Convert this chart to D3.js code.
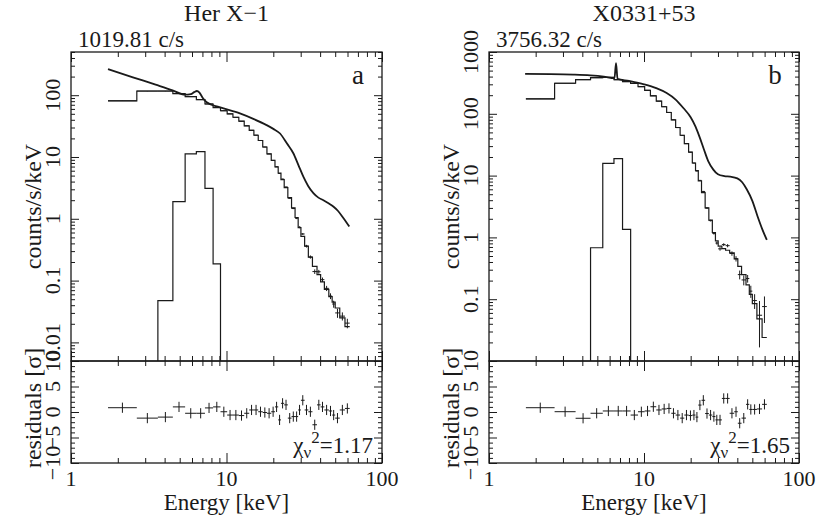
<!DOCTYPE html>
<html>
<head>
<meta charset="utf-8">
<script src="https://cdn.jsdelivr.net/npm/d3@7"></script>
<style>
  body { margin: 0; background: #fff; }
  svg text { font-family: "Liberation Serif", serif; fill: #1a1a1a; }
</style>
</head>
<body>
<svg id="spectra"></svg>
<script>
// Channel grouping in keV, the same for both spectra (39 channels)
const channelEdges = [1.73, 2.65, 3.62, 4.52, 5.42, 6.40, 7.27, 8.2, 9.15, 10.1, 11.0, 12.0, 13.0,
  14.0, 15.0, 16.0, 17.1, 18.2, 19.4, 20.5, 21.5, 22.4, 23.5, 24.8, 26.2, 27.6, 28.9, 30.1,
  31.8, 33.6, 35.7, 38.2, 40.3, 42.6, 45.5, 47.8, 50.0, 53.5, 57.8, 62.0];

// Her X-1: folded model, data, fractional errors, residuals
const herFolded = [81, 117, 117, 106, 95, 85, 72, 63, 56, 50, 44, 38, 32, 27, 22.5, 18.5, 14.5,
  11.2, 8.8, 6.9, 5.5, 4.3, 3.2, 2.2, 1.5, 1.05, 0.72, 0.52, 0.36, 0.24, 0.17, 0.125, 0.095,
  0.072, 0.055, 0.045, 0.036, 0.025, 0.018];
const herData = [81.3, 116.4, 116.5, 106.4, 94.9, 84.9, 72.2, 63.3, 56.0, 49.9, 43.8, 37.8, 32.0,
  27.1, 22.6, 18.5, 14.5, 11.2, 8.8, 6.94, 5.41, 4.39, 3.27, 2.15, 1.47, 1.02, 0.73, 0.568,
  0.361, 0.241, 0.140, 0.139, 0.1036, 0.0749, 0.0562, 0.0418, 0.030, 0.0266, 0.0205];
const herErr = [0.004, 0.004, 0.004, 0.004, 0.004, 0.004, 0.004, 0.004, 0.004, 0.004, 0.006,
  0.006, 0.006, 0.006, 0.006, 0.006, 0.006, 0.006, 0.006, 0.006, 0.01, 0.012, 0.015, 0.02,
  0.025, 0.03, 0.035, 0.04, 0.05, 0.06, 0.07, 0.08, 0.09, 0.10, 0.11, 0.12, 0.14, 0.16, 0.2];
const herResid = [0.84, -1.2, -1.0, 1.0, -0.25, -0.25, 0.8, 1.0, 0.05, -0.6, -0.6, -0.7, -0.25,
  0.4, 0.4, 0.05, -0.1, -0.25, 0.05, 1.0, -1.55, 1.7, 1.4, -1.2, -0.9, -0.9, 0.4, 2.3, 0.4,
  0.05, -2.5, 1.4, 1.0, 0.4, 0.2, -0.6, -1.2, 0.4, 0.7];
// Her X-1 unfolded model curve
const herModelE = [1.73, 2.5, 3.5, 4.5, 5.4, 5.9, 6.2, 6.45, 6.7, 7.0, 7.46, 9, 12.2, 15, 18.1,
  20, 22.1, 24.5, 26.9, 29, 31.2, 33.5, 36.2, 39, 42, 45, 48.6, 52, 56.4, 61.6];
const herModelV = [265, 195, 148, 120, 102, 104, 112, 117, 110, 92, 77, 64, 50.7, 41, 32.8, 28.5,
  24, 16.5, 11.5, 7.4, 4.8, 3.4, 2.6, 2.2, 2.0, 1.8, 1.58, 1.35, 1.03, 0.75];
// Her X-1 iron line component
const herLineEdges = [3.62, 4.52, 5.42, 6.40, 7.27, 8.2, 9.15];
const herLine = [0.0475, 1.9, 11.2, 12.2, 3.1, 0.186];

// X0331+53
const xFolded = [174, 312, 358, 384, 388, 356, 332, 310, 275, 240, 195, 160, 130, 105, 80, 60,
  45, 33, 24, 16, 12, 8.2, 5.3, 3.0, 1.9, 1.2, 0.88, 0.72, 0.66, 0.62, 0.56, 0.45, 0.34, 0.25,
  0.17, 0.12, 0.085, 0.048, 0.024];
const xData = [174.4, 312.1, 356.7, 383.7, 388.2, 356.2, 332.2, 309.4, 275.0, 240.1, 196.0,
  160.3, 130.4, 105.4, 79.9, 59.8, 44.7, 32.9, 23.9, 15.95, 11.88, 8.37, 5.54, 2.98, 1.87, 1.16,
  0.81, 0.653, 0.765, 0.735, 0.549, 0.452, 0.250, 0.205, 0.216, 0.135, 0.095, 0.055, 0.076];
const xErr = [0.003, 0.003, 0.003, 0.003, 0.003, 0.003, 0.003, 0.003, 0.003, 0.003, 0.005, 0.005,
  0.005, 0.005, 0.005, 0.005, 0.005, 0.005, 0.005, 0.005, 0.01, 0.015, 0.02, 0.025, 0.03, 0.04,
  0.05, 0.06, 0.06, 0.07, 0.08, 0.1, 0.12, 0.15, 0.18, 0.25, 0.3, 0.8, 1.45];
const xResid = [0.84, 0.06, -1.23, -0.25, 0.2, 0.2, 0.2, -0.6, 0.05, 0.2, 1.03, 0.4, 0.6, 0.7,
  -0.25, -0.6, -1.2, -0.6, -0.7, -0.6, -1.0, 1.36, 2.3, -0.3, -0.6, -0.9, -1.55, -1.55, 2.66,
  2.66, -0.25, 0.05, -2.2, -1.2, 1.5, 0.5, 0.5, 0.6, 1.5];
const xModelE = [1.71, 2.5, 3.5, 4.5, 5.5, 6.45, 6.6, 6.75, 8, 10, 12, 14, 16, 18, 20, 21.5, 23,
  24.3, 26, 28, 30, 33, 36, 40, 43, 46, 50, 54, 58, 62];
const xModelV = [441, 438, 430, 418, 400, 378, 660, 368, 340, 300, 260, 217, 170, 123, 88, 62, 40,
  27, 17, 12.5, 10.5, 9.8, 9.6, 9.0, 7.8, 6.0, 3.9, 2.2, 1.35, 0.91];
const xLineEdges = [4.52, 5.42, 6.40, 7.27, 8.2];
const xLine = [0.68, 15.8, 18.8, 1.35];

// Axis labels
const energyTicks = [1, 10, 100];
const residTicks = [-10, -5, 0, 5, 10];
const herCountTicks = [0.01, 0.1, 1, 10, 100];
const xCountTicks = [0.1, 1, 10, 100, 1000];

const panels = [
  { title: 'Her X\u22121', rate: '1019.81 c/s', tag: 'a', chi: '=1.17', left: 71, right: 382,
    yDomain: [0.005, 500], yTicks: herCountTicks, folded: herFolded, data: herData, err: herErr,
    resid: herResid, modelE: herModelE, modelV: herModelV, lineEdges: herLineEdges, line: herLine },
  { title: 'X0331+53', rate: '3756.32 c/s', tag: 'b', chi: '=1.65', left: 489, right: 799,
    yDomain: [0.01, 1000], yTicks: xCountTicks, folded: xFolded, data: xData, err: xErr,
    resid: xResid, modelE: xModelE, modelV: xModelV, lineEdges: xLineEdges, line: xLine },
];

const svg = d3.select('#spectra').attr('width', 818).attr('height', 518);
const yTop = 52, yMid = 361, yBottom = 463;
const ink = '#1a1a1a';
const isDecade = v => Math.abs(Math.log10(v) - Math.round(Math.log10(v))) < 1e-6;
const fmt = v => (v < 0 ? '\u2212' + Math.abs(v) : String(v));

panels.forEach((p, k) => {
  const x = d3.scaleLog().domain([1, 100]).range([p.left, p.right]);
  const y = d3.scaleLog().domain(p.yDomain).range([yMid, yTop]);
  const r = d3.scaleLinear().domain([-10, 10]).range([yBottom, yMid]);
  const g = svg.append('g');

  svg.append('clipPath').attr('id', `clip${k}`)
    .append('rect')
      .attr('x', p.left).attr('y', yTop)
      .attr('width', p.right - p.left).attr('height', yMid - yTop);

  const tickRow = (axis, scale, values, size, tx, ty) => {
    g.append('g')
      .attr('transform', `translate(${tx},${ty})`)
      .attr('color', ink)
      .call(axis(scale).tickValues(values).tickSize(size).tickFormat(''))
      .call(a => a.select('.domain').remove())
      .selectAll('line').attr('stroke-width', 1);
  };

  // Ticks, all inside the boxes
  const xMajor = x.ticks().filter(isDecade);
  const xMinor = x.ticks().filter(v => !isDecade(v));
  const yMajor = y.ticks().filter(isDecade);
  const yMinor = y.ticks().filter(v => !isDecade(v));
  const rMajor = d3.range(-10, 11, 5);
  const rMinor = d3.range(-10, 11, 1).filter(v => v % 5 !== 0);

  [[d3.axisTop, yTop], [d3.axisBottom, yMid], [d3.axisTop, yMid], [d3.axisBottom, yBottom]]
    .forEach(([axis, yy]) => {
      tickRow(axis, x, xMajor, -10, 0, yy);
      tickRow(axis, x, xMinor, -5, 0, yy);
    });
  [[d3.axisLeft, p.left], [d3.axisRight, p.right]].forEach(([axis, xx]) => {
    tickRow(axis, y, yMajor, -8, xx, 0);
    tickRow(axis, y, yMinor, -4, xx, 0);
    tickRow(axis, r, rMajor, -8, xx, 0);
    tickRow(axis, r, rMinor, -4, xx, 0);
  });

  // Frames
  g.append('rect')
    .attr('x', p.left).attr('y', yTop)
    .attr('width', p.right - p.left).attr('height', yMid - yTop)
    .attr('fill', 'none').attr('stroke', ink).attr('stroke-width', 1.3);
  g.append('rect')
    .attr('x', p.left).attr('y', yMid)
    .attr('width', p.right - p.left).attr('height', yBottom - yMid)
    .attr('fill', 'none').attr('stroke', ink).attr('stroke-width', 1.3);

  const plot = g.append('g').attr('clip-path', `url(#clip${k})`);
  const step = d3.line().x(d => x(d[0])).y(d => y(d[1])).curve(d3.curveStepAfter);

  // Iron line component
  const floor = p.yDomain[0];
  const n = p.line.length;
  const linePts = [[p.lineEdges[0], floor]]
    .concat(p.line.map((v, i) => [p.lineEdges[i], v]))
    .concat([[p.lineEdges[n], p.line[n - 1]], [p.lineEdges[n], floor]]);
  plot.append('path')
    .attr('d', step(linePts))
    .attr('fill', 'none').attr('stroke', ink).attr('stroke-width', 1.2);

  // Folded model histogram
  const m = p.folded.length;
  const foldPts = p.folded.map((v, i) => [channelEdges[i], v])
    .concat([[channelEdges[m], p.folded[m - 1]]]);
  plot.append('path')
    .attr('d', step(foldPts))
    .attr('fill', 'none').attr('stroke', ink).attr('stroke-width', 1.2);

  // Unfolded model curve
  plot.append('path')
    .datum(p.modelE.map((e, i) => [e, p.modelV[i]]))
    .attr('d', d3.line().x(d => x(d[0])).y(d => y(d[1])).curve(d3.curveMonotoneX))
    .attr('fill', 'none').attr('stroke', ink).attr('stroke-width', 1.8);

  // Data crosses
  const bins = p.data.map((v, i) => {
    const lo = channelEdges[i], hi = channelEdges[i + 1];
    const sigma = p.err[i] * p.folded[i];
    return { lo, hi, mid: Math.sqrt(lo * hi), v, sigma, res: p.resid[i] };
  });
  const data = plot.append('g').attr('stroke', ink).attr('stroke-width', 1);
  data.selectAll('.xbar').data(bins).enter().append('line')
    .attr('x1', d => x(d.lo)).attr('x2', d => x(d.hi))
    .attr('y1', d => y(d.v)).attr('y2', d => y(d.v));
  data.selectAll('.ybar').data(bins).enter().append('line')
    .attr('x1', d => x(d.mid)).attr('x2', d => x(d.mid))
    .attr('y1', d => y(Math.max(d.v - d.sigma, floor)))
    .attr('y2', d => y(d.v + d.sigma));

  // Residual crosses
  const res = g.append('g').attr('stroke', ink).attr('stroke-width', 1);
  res.selectAll('.rx').data(bins).enter().append('line')
    .attr('x1', d => x(d.lo)).attr('x2', d => x(d.hi))
    .attr('y1', d => r(d.res)).attr('y2', d => r(d.res));
  res.selectAll('.ry').data(bins).enter().append('line')
    .attr('x1', d => x(d.mid)).attr('x2', d => x(d.mid))
    .attr('y1', d => r(d.res - 1)).attr('y2', d => r(d.res + 1));

  // Tick labels
  g.selectAll('.xl').data(energyTicks).enter().append('text')
    .attr('x', d => x(d)).attr('y', 486)
    .attr('text-anchor', 'middle').attr('font-size', 22)
    .text(fmt);
  g.selectAll('.yl').data(p.yTicks).enter().append('text')
    .attr('transform', d => `translate(${p.left - 19},${y(d)}) rotate(-90)`)
    .attr('dy', '0.35em').attr('text-anchor', 'middle').attr('font-size', 22)
    .text(fmt);
  g.selectAll('.rl').data(residTicks).enter().append('text')
    .attr('transform', d => `translate(${p.left - 19},${r(d)}) rotate(-90)`)
    .attr('dy', '0.35em').attr('text-anchor', 'middle').attr('font-size', 22)
    .text(fmt);

  // Axis titles
  g.append('text')
    .attr('x', (p.left + p.right) / 2).attr('y', 510)
    .attr('text-anchor', 'middle').attr('font-size', 23)
    .text('Energy [keV]');
  g.append('text')
    .attr('transform', `translate(${p.left - 38},${(yTop + yMid) / 2}) rotate(-90)`)
    .attr('dy', '0.35em').attr('text-anchor', 'middle').attr('font-size', 24)
    .text('counts/s/keV');
  g.append('text')
    .attr('transform', `translate(${p.left - 38},${(yMid + yBottom) / 2 - 4}) rotate(-90)`)
    .attr('dy', '0.35em').attr('text-anchor', 'middle').attr('font-size', 24)
    .text('residuals [\u03c3]');

  // Title, count rate, panel tag
  g.append('text')
    .attr('x', (p.left + p.right) / 2).attr('y', 21)
    .attr('text-anchor', 'middle').attr('font-size', 24)
    .text(p.title);
  g.append('text')
    .attr('x', p.left + 7).attr('y', 47)
    .attr('font-size', 23)
    .text(p.rate);
  g.append('text')
    .attr('x', p.right - 24).attr('y', 75).attr('dy', '0.35em')
    .attr('text-anchor', 'middle').attr('font-size', 27)
    .text(p.tag);

  // Reduced chi-square
  const chi = g.append('text')
    .attr('x', p.right - 9).attr('y', 453)
    .attr('text-anchor', 'end').attr('font-size', 23);
  chi.append('tspan').text('\u03c7');
  chi.append('tspan').attr('dy', 5).attr('font-size', 17).text('\u03bd');
  chi.append('tspan').attr('dy', -15).attr('font-size', 17).text('2');
  chi.append('tspan').attr('dy', 10).text(p.chi);
});
</script>
</body>
</html>
